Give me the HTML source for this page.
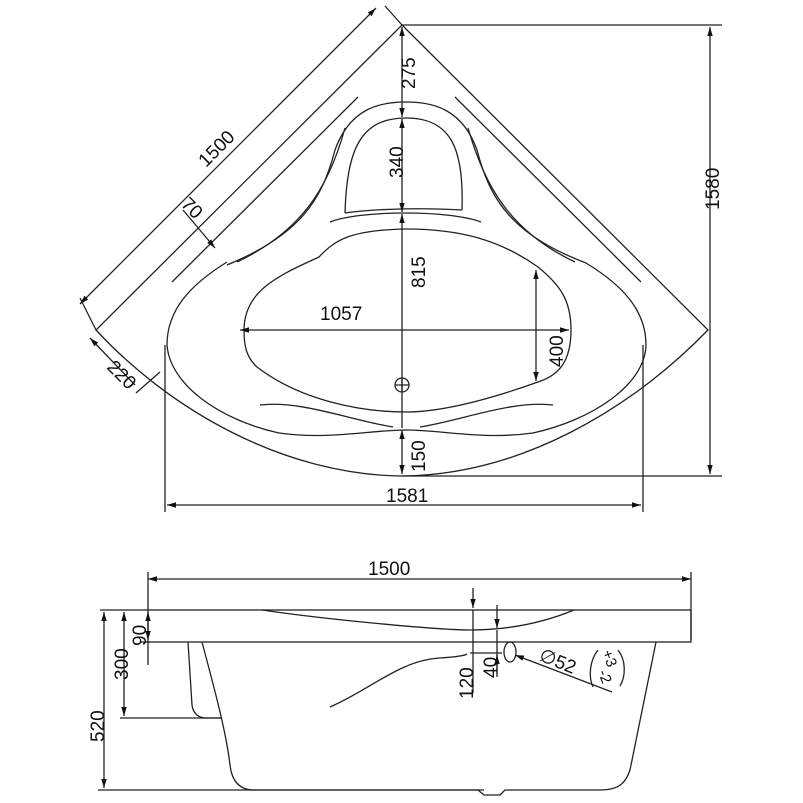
<!DOCTYPE html>
<html><head><meta charset="utf-8"><style>
html,body{margin:0;padding:0;background:#fff}
svg{display:block}
text{font-family:"Liberation Sans",sans-serif;font-size:19px;fill:#111}
</style></head><body>
<svg width="803" height="803" viewBox="0 0 803 803" xmlns="http://www.w3.org/2000/svg">
<defs>
<marker id="a" viewBox="0 0 10 10" refX="10" refY="5" markerWidth="9" markerHeight="9" orient="auto-start-reverse" markerUnits="userSpaceOnUse"><path d="M0,2 L10,5 L0,8 z" fill="#111"/></marker>
</defs>
<g fill="none" stroke="#222" stroke-width="1.3">
<path d="M402,25 L708,330 C630,410 520,475 402,476 C284,475 170,410 96,330 Z"/>
<path d="M358,97 L172,282"/><path d="M455,97 L641,282"/>
<path d="M227,265 C300,235 322,200 335,150 C350,108 380,102 406,102 C432,102 462,108 477,150 C490,200 512,235 586,263"/>
<path d="M237,262 C300,232 328,190 345,128"/><path d="M575,262 C512,232 486,190 468,128"/>
<path d="M345,213 C347,150 360,118 406,118 C452,118 464,150 462,210"/>
<path d="M330,222 C360,210 450,210 481,222"/>
<path d="M345,213 C380,208 430,208 462,210"/>
<path d="M227,262 C190,285 167,310 167,345 C170,385 220,420 279,433 C330,440 370,430 406,430 C442,430 482,440 533,433 C592,420 645,385 646,345 C646,310 622,285 586,263"/>
<path d="M260,405 C300,400 350,420 393,427"/><path d="M553,405 C513,400 463,420 420,427"/>
<path d="M244,330 C244,290 280,275 319,257 C335,240 350,230 406,229 C460,229 500,240 538,267 C560,285 571,300 571,330 C571,360 560,375 538,382 C510,392 450,412 406,412 C360,412 300,400 257,367 C246,357 244,345 244,330 Z"/>
<circle cx="402" cy="385" r="7"/><path d="M395,385 H409 M402,378 V392"/>
<path d="M402,25 H722 M402,476 H722 M165,345 V512 M643,345 V512"/>
<path d="M710,27 V474" marker-start="url(#a)" marker-end="url(#a)"/>
<path d="M167,505 H641" marker-start="url(#a)" marker-end="url(#a)"/>
<path d="M402,27 V117" marker-start="url(#a)" marker-end="url(#a)"/>
<path d="M402,119 V212" marker-start="url(#a)" marker-end="url(#a)"/>
<path d="M402,214 V428" marker-start="url(#a)"/>
<path d="M402,430 V474" marker-start="url(#a)" marker-end="url(#a)"/>
<path d="M240,330 H569" marker-start="url(#a)" marker-end="url(#a)"/>
<path d="M536,270 V381" marker-start="url(#a)" marker-end="url(#a)"/>
<path d="M402,25 L385,6 M80,298 L96,330"/>
<path d="M376,8 L80,304" marker-start="url(#a)" marker-end="url(#a)"/>
<path d="M183,210 L215,248" marker-end="url(#a)"/>
<path d="M90,338 L135,385" marker-start="url(#a)"/>
<path d="M160,372 L136,393"/>
<path d="M148,579 H691" marker-start="url(#a)" marker-end="url(#a)"/>
<path d="M148,572 V610 M691,572 V640"/>
<rect x="148" y="610" width="543" height="32"/>
<path d="M202,642 C212,680 226,730 230,765 C232,782 240,790 254,790 L478,790 L484,795 L500,795 L505,790 L600,790 C620,790 626,782 630,770 L656,642"/>
<path d="M188,642 L192,705 C193,713 198,718 206,718 L222,718"/>
<path d="M120,718 H222 M100,610 H148 M98,790 H484"/>
<path d="M262,610 C330,620 440,630 470,630 C510,630 545,622 574,610"/>
<path d="M330,707 C370,690 400,660 440,658 C455,657 465,656 467,654"/>
<path d="M148,612 V640" marker-start="url(#a)" marker-end="url(#a)"/>
<path d="M148,642 V665 M140,642 H150"/>
<path d="M124,612 V716" marker-start="url(#a)" marker-end="url(#a)"/>
<path d="M104,612 V788" marker-start="url(#a)" marker-end="url(#a)"/>
<path d="M473,588 V608" marker-end="url(#a)"/><path d="M473,610 V693"/>
<path d="M497,605 V628" marker-end="url(#a)"/><path d="M497,630 V677"/>
<path d="M497,674 V655" marker-end="url(#a)"/>
<path d="M470,653 H502"/>
<ellipse cx="510" cy="652" rx="6" ry="10"/>
<path d="M612,692 L515,655" marker-end="url(#a)"/>
<path d="M598,650 C590,660 588,676 593,687 M618,650 C626,660 626,676 620,686"/>
</g>
<g>
<text transform="translate(415,89) rotate(-90)">275</text>
<text transform="translate(403,178) rotate(-90)">340</text>
<text transform="translate(425,288) rotate(-90)">815</text>
<text transform="translate(425,472) rotate(-90)">150</text>
<text transform="translate(563,367) rotate(-90)">400</text>
<text transform="translate(719,210) rotate(-90)">1580</text>
<text x="320" y="320">1057</text>
<text x="386" y="502">1581</text>
<text transform="translate(206,168) rotate(-45)">1500</text>
<text transform="translate(180,205) rotate(45)">70</text>
<text transform="translate(106,368) rotate(45)">220</text>
<text x="368" y="575">1500</text>
<text transform="translate(146,646) rotate(-90)">90</text>
<text transform="translate(128,680) rotate(-90)">300</text>
<text transform="translate(104,742) rotate(-90)">520</text>
<text transform="translate(473,699) rotate(-90)">120</text>
<text transform="translate(497,678) rotate(-90)">40</text>
<text transform="translate(538,660) rotate(22)">∅52</text>
<text transform="translate(602,652) rotate(70)" style="font-size:15px">+3</text>
<text transform="translate(598,672) rotate(70)" style="font-size:15px">-2</text>
</g>
</svg>
</body></html>
